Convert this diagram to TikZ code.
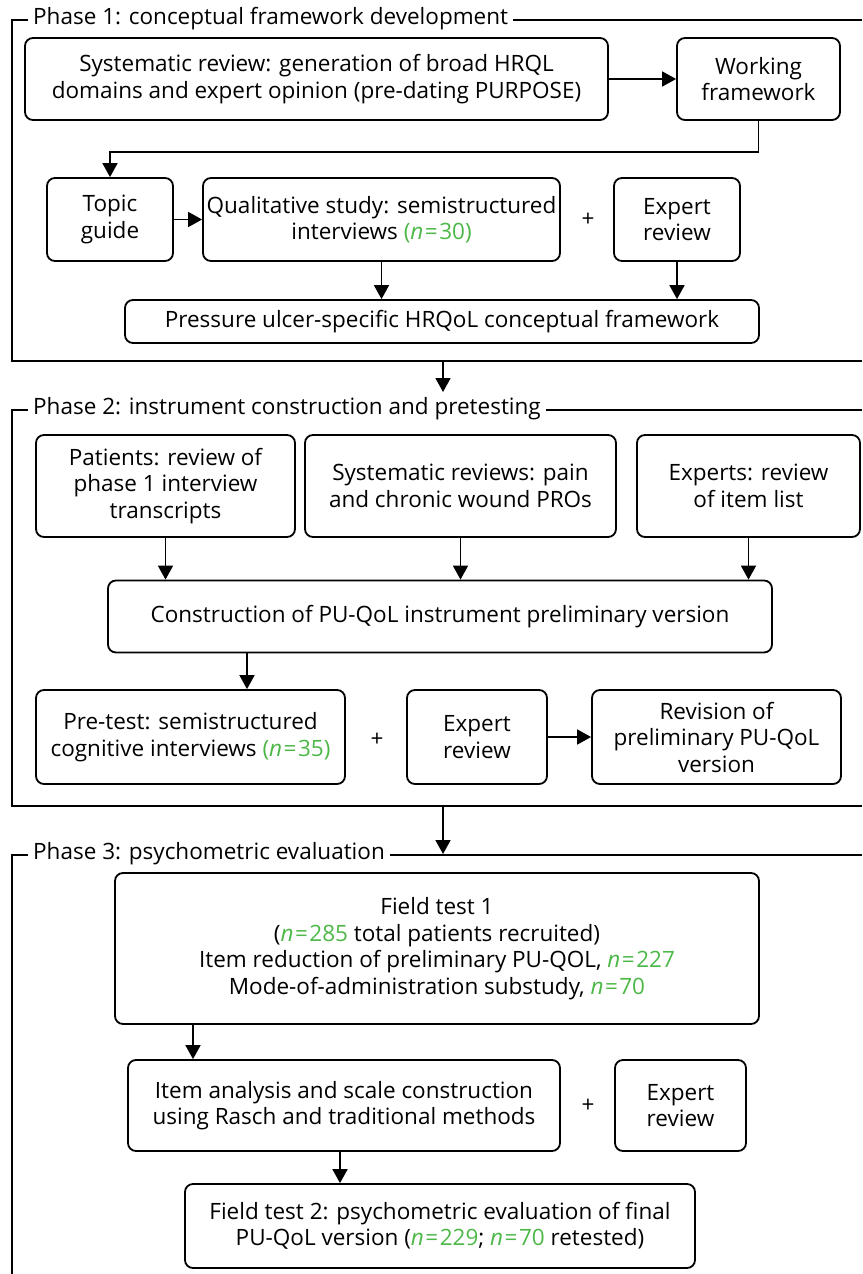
\documentclass[tikz,border=0pt]{standalone}
\usepackage{fontspec}
\setmainfont{Open Sans}
\usetikzlibrary{arrows.meta}
\definecolor{ngreen}{RGB}{77,184,72}
\newcommand{\nval}[1]{\textcolor{ngreen}{\textit{n}\kern1.5pt=\kern1.5pt#1}}

\begin{document}
\begin{tikzpicture}[x=1pt,y=1pt,yscale=-1,
  box/.style={draw, line width=1.8pt, rounded corners=8pt, align=center, inner sep=1pt},
  arr/.style={line width=1.8pt, -{Triangle[length=14pt,width=15pt]}},
  frame/.style={line width=1.9pt},
  phase/.style={fill=white, anchor=west, inner xsep=5pt, inner ysep=1pt},
  font=\fontsize{22.5}{26.5}\selectfont]
\useasboundingbox (0,0) rectangle (862,1274);

%Shape: Frame Phase 1
\draw[frame] (862,20) -- (12,20) -- (12,361) -- (862,361);
\node[phase] (ph1) at (28,19) {Phase 1: conceptual framework development};

%Shape: Rectangle
\node[box, minimum width=583, minimum height=82] (sysrev) at (316.5,79) {Systematic review: generation of broad HRQL\\domains and expert opinion (pre-dating PURPOSE)};
\node[box, minimum width=163, minimum height=82] (work) at (758.5,79) {Working\\framework};
\node[box, minimum width=126, minimum height=83] (topic) at (110,219.5) {Topic\\guide};
\node[box, minimum width=357, minimum height=83] (qual) at (381.5,219.5) {Qualitative study: semistructured\\interviews \textcolor{ngreen}{(\nval{30})}};
\node[box, minimum width=126, minimum height=83] (exp1) at (677,219.5) {Expert\\review};
\node[box, minimum width=634, minimum height=43] (puframe) at (442,321.5) {Pressure ulcer-specific HRQoL conceptual framework};

% Text Node
\node (plus1) at (588,220) {+};

%Straight Lines
\draw[arr] (sysrev) -- (work);
\draw[arr] (work.south) -- ++(0,31) -| (topic.north);
\draw[arr] (topic) -- (qual);
\draw[arr] (qual.south) -- (qual.south |- puframe.north);
\draw[arr] (exp1.south) -- (exp1.south |- puframe.north);

\coordinate (f1b) at (443,361);
\coordinate (f2t) at (443,392);
\draw[arr] (f1b) -- (f2t);

%Shape: Frame Phase 2
\draw[frame] (862,410) -- (12,410) -- (12,806) -- (862,806);
\node[phase] (ph2) at (28,409) {Phase 2: instrument construction and pretesting};

%Shape: Rectangle
\node[box, minimum width=259, minimum height=102] (patients) at (165.5,486) {Patients: review of\\phase 1 interview\\transcripts};
\node[box, minimum width=311, minimum height=102] (sysrevs) at (460.5,486) {Systematic reviews: pain\\and chronic wound PROs};
\node[box, minimum width=223, minimum height=102] (experts) at (748.5,486) {Experts: review\\of item list};
\node[box, minimum width=664, minimum height=72] (constr) at (440,616.5) {Construction of PU-QoL instrument preliminary version};
\node[box, minimum width=309, minimum height=94] (pretest) at (190.5,737) {Pre-test: semistructured\\cognitive interviews \textcolor{ngreen}{(\nval{35})}};
\node[box, minimum width=140, minimum height=94] (exp2) at (477,737) {Expert\\review};
\node[box, minimum width=249, minimum height=94] (revision) at (716.5,737) {Revision of\\preliminary PU-QoL\\version};

% Text Node
\node (plus2) at (377,740) {+};

%Straight Lines
\draw[arr] (patients.south) -- (patients.south |- constr.north);
\draw[arr] (sysrevs.south) -- (sysrevs.south |- constr.north);
\draw[arr] (experts.south) -- (experts.south |- constr.north);
\coordinate (c2) at (247,652.5);
\draw[arr] (c2) -- (c2 |- pretest.north);
\draw[arr] (exp2) -- (revision);

\coordinate (f2b) at (443,806);
\coordinate (f3t) at (443,854);
\draw[arr] (f2b) -- (f3t);

%Shape: Frame Phase 3
\draw[frame] (862,855) -- (12,855) -- (12,1274);
\node[phase] (ph3) at (28,854) {Phase 3: psychometric evaluation};

%Shape: Rectangle
\node[box, minimum width=644, minimum height=151] (field1) at (437,948.5) {Field test 1\\(\nval{285} total patients recruited)\\Item reduction of preliminary PU-QOL, \nval{227}\\Mode-of-administration substudy, \nval{70}};
\node[box, minimum width=432, minimum height=91] (item) at (344,1105.5) {Item analysis and scale construction\\using Rasch and traditional methods};
\node[box, minimum width=131, minimum height=91] (exp3) at (680.5,1105.5) {Expert\\review};
\node[box, minimum width=510, minimum height=84] (field2) at (440,1226) {Field test 2: psychometric evaluation of final\\PU-QoL version (\nval{229}; \nval{70} retested)};

% Text Node
\node (plus3) at (588,1106) {+};

%Straight Lines
\coordinate (c3) at (193,1024);
\draw[arr] (c3) -- (c3 |- item.north);
\coordinate (c4) at (340,1151);
\draw[arr] (c4) -- (c4 |- field2.north);

\end{tikzpicture}
\end{document}
